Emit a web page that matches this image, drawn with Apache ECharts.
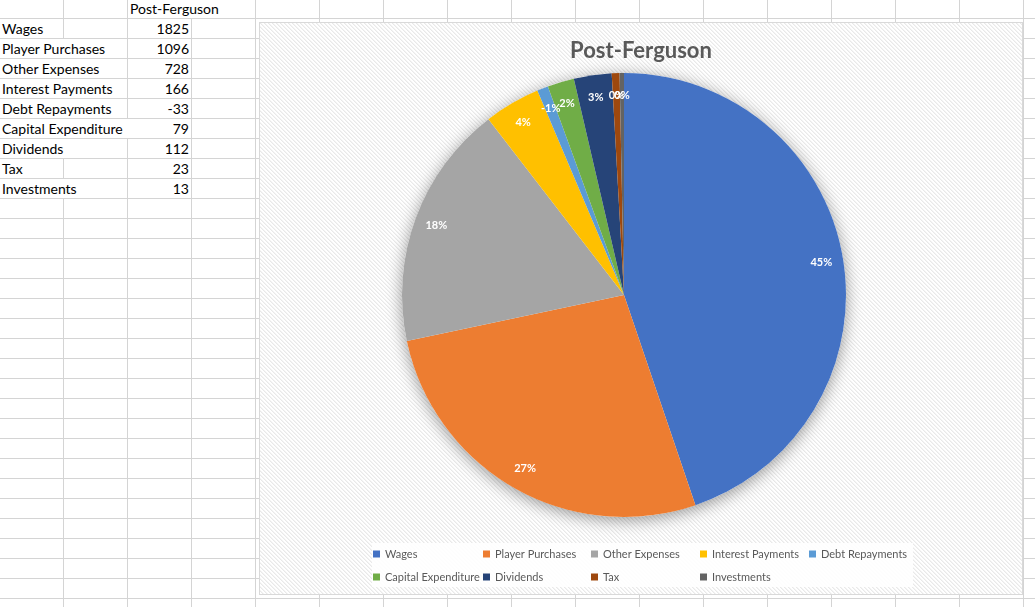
<!DOCTYPE html>
<html>
<head>
<meta charset="utf-8">
<script src="https://cdn.jsdelivr.net/npm/echarts@6/dist/echarts.min.js"></script>
<style>
  html, body { margin: 0; padding: 0; width: 1035px; height: 607px; overflow: hidden; background: #fff; }
  #sheet {
    position: absolute; left: 0; top: 0; width: 1035px; height: 607px;
    background-image:
      linear-gradient(to right, transparent 63px, #d4d4d4 63px, #d4d4d4 64px, transparent 64px),
      linear-gradient(to bottom, transparent 18px, #d4d4d4 18px, #d4d4d4 19px, transparent 19px);
    background-size: 64px 607px, 1035px 20px;
  }
  .cell {
    position: absolute; height: 19px; line-height: 19px; background: #fff;
    font-family: Lato, sans-serif; font-size: 14px; color: #000; white-space: nowrap;
    box-sizing: border-box;
  }
  #frame {
    position: absolute; left: 259px; top: 22px; width: 764px; height: 573px;
    box-sizing: border-box; border: 1px solid #d9d9d9; background-color: #fff;
  }
  #chart { width: 762px; height: 571px; }
</style>
</head>
<body>
<div id="sheet"></div>
<div id="frame"><div id="chart"></div></div>
<script type="application/javascript">
// values as typed in the sheet
const seriesTitle = 'Post-Ferguson';
const categories = ['Wages', 'Player Purchases', 'Other Expenses', 'Interest Payments', 'Debt Repayments',
  'Capital Expenditure', 'Dividends', 'Tax', 'Investments'];
const values = [1825, 1096, 728, 166, -33, 79, 112, 23, 13];
// percent labels as Excel printed them
const pctLabels = ['45%', '27%', '18%', '4%', '-1%', '2%', '3%', '0%', '0%'];
const colors = ['#4472C4', '#ED7D31', '#A5A5A5', '#FFC000', '#5B9BD5', '#70AD47', '#264478', '#9E480E', '#636363'];

// ---- hatched chart background (small tile, repeated) ----
(function () {
  const c = document.createElement('canvas');
  c.width = 4; c.height = 4;
  const ctx = c.getContext('2d');
  for (let x = 0; x < 4; x++) {
    for (let y = 0; y < 4; y++) {
      const k = ((x - y) % 4 + 4) % 4;
      ctx.fillStyle = k === 0 ? '#e9e9e9' : (k === 1 ? '#f4f4f4' : '#ffffff');
      ctx.fillRect(x, y, 1, 1);
    }
  }
  document.getElementById('frame').style.backgroundImage = 'url(' + c.toDataURL() + ')';
})();

// ---- spreadsheet cells ----
const sheet = document.getElementById('sheet');
const measure = document.createElement('canvas').getContext('2d');
measure.font = '14px Lato';

function addCell(text, col, row, align) {
  const d = document.createElement('div');
  d.className = 'cell';
  d.textContent = text;
  d.style.top = (20 * row - 1) + 'px';
  if (align === 'right') {
    d.style.left = (64 * col) + 'px';
    d.style.width = '63px';
    d.style.textAlign = 'right';
    d.style.paddingRight = '2px';
  } else {
    const w = measure.measureText(text).width + 3;
    const span = Math.max(1, Math.ceil(w / 61));
    d.style.left = (col === 0 ? 0 : 64 * col) + 'px';
    d.style.width = (64 * span - 1) + 'px';
    d.style.paddingLeft = '2px';
  }
  sheet.appendChild(d);
}

addCell(seriesTitle, 2, 0, 'left');
categories.forEach((c, i) => {
  addCell(c, 0, i + 1, 'left');
  addCell(String(values[i]), 2, i + 1, 'right');
});

// ---- chart ----
const chart = echarts.init(document.getElementById('chart'));

const pieCenter = [364, 272];
const pieRadius = 222;
const labelRadius = 200;

// Excel sizes slices by absolute value
const sizes = values.map(v => Math.abs(v));
const total = sizes.reduce((a, b) => a + b, 0);

const pieData = categories.map((name, i) => ({
  name,
  value: sizes[i],
  itemStyle: { color: colors[i] }
}));

// label anchors: mid-angle of each slice, on the polar axis that mirrors the pie
let run = 0;
const labelPoints = sizes.map(s => {
  const mid = run + s / 2;
  run += s;
  return [labelRadius, mid];
});

// legend laid out in columns like Excel does
const legendCols = [[0, 5], [1, 6], [2, 7], [3, 8], [4]];
const legendX = [113, 223, 331, 440, 549];

const legends = legendCols.map((col, i) => ({
  orient: 'vertical',
  left: legendX[i],
  top: 524,
  padding: 0,
  itemWidth: 7,
  itemHeight: 7,
  itemGap: 9,
  icon: 'rect',
  selectedMode: false,
  data: col.map(j => categories[j]),
  textStyle: { fontFamily: 'Lato', fontSize: 11, color: '#595959', lineHeight: 14 }
}));

const option = {
  animation: false,
  title: {
    text: seriesTitle,
    left: 'center',
    top: 12,
    textStyle: { fontFamily: 'Lato', fontSize: 22, fontWeight: 'bold', color: '#595959' }
  },
  legend: legends,
  polar: { center: pieCenter, radius: pieRadius },
  angleAxis: { type: 'value', min: 0, max: total, startAngle: 90, clockwise: true, show: false },
  radiusAxis: { type: 'value', min: 0, max: pieRadius, show: false },
  graphic: [{
    type: 'rect',
    left: 112,
    top: 520,
    z: 0,
    silent: true,
    shape: { width: 541, height: 44 },
    style: { fill: 'rgba(255,255,255,0.9)' }
  }],
  series: [
    {
      // soft halo under the pie
      type: 'pie',
      name: 'halo',
      silent: true,
      center: pieCenter,
      radius: pieRadius,
      z: 1,
      label: { show: false },
      labelLine: { show: false },
      itemStyle: { color: '#fff', shadowBlur: 16, shadowColor: 'rgba(0,0,0,0.4)', shadowOffsetY: 3 },
      data: [{ name: 'halo', value: 1 }]
    },
    {
      type: 'pie',
      name: seriesTitle,
      center: pieCenter,
      radius: pieRadius,
      startAngle: 90,
      clockwise: true,
      z: 2,
      itemStyle: { borderWidth: 0 },
      label: { show: false },
      labelLine: { show: false },
      emphasis: { disabled: true },
      data: pieData
    },
    {
      // percent labels, placed near the rim
      type: 'scatter',
      name: 'labels',
      coordinateSystem: 'polar',
      silent: true,
      z: 3,
      symbolSize: 1,
      itemStyle: { color: 'rgba(0,0,0,0)', opacity: 1 },
      label: {
        show: true,
        position: 'inside',
        formatter: p => pctLabels[p.dataIndex],
        color: '#ffffff',
        opacity: 1,
        textBorderWidth: 0,
        fontFamily: 'Lato',
        fontWeight: 'bold',
        fontSize: 11
      },
      data: labelPoints
    }
  ]
};

chart.setOption(option);
</script>
</body>
</html>
